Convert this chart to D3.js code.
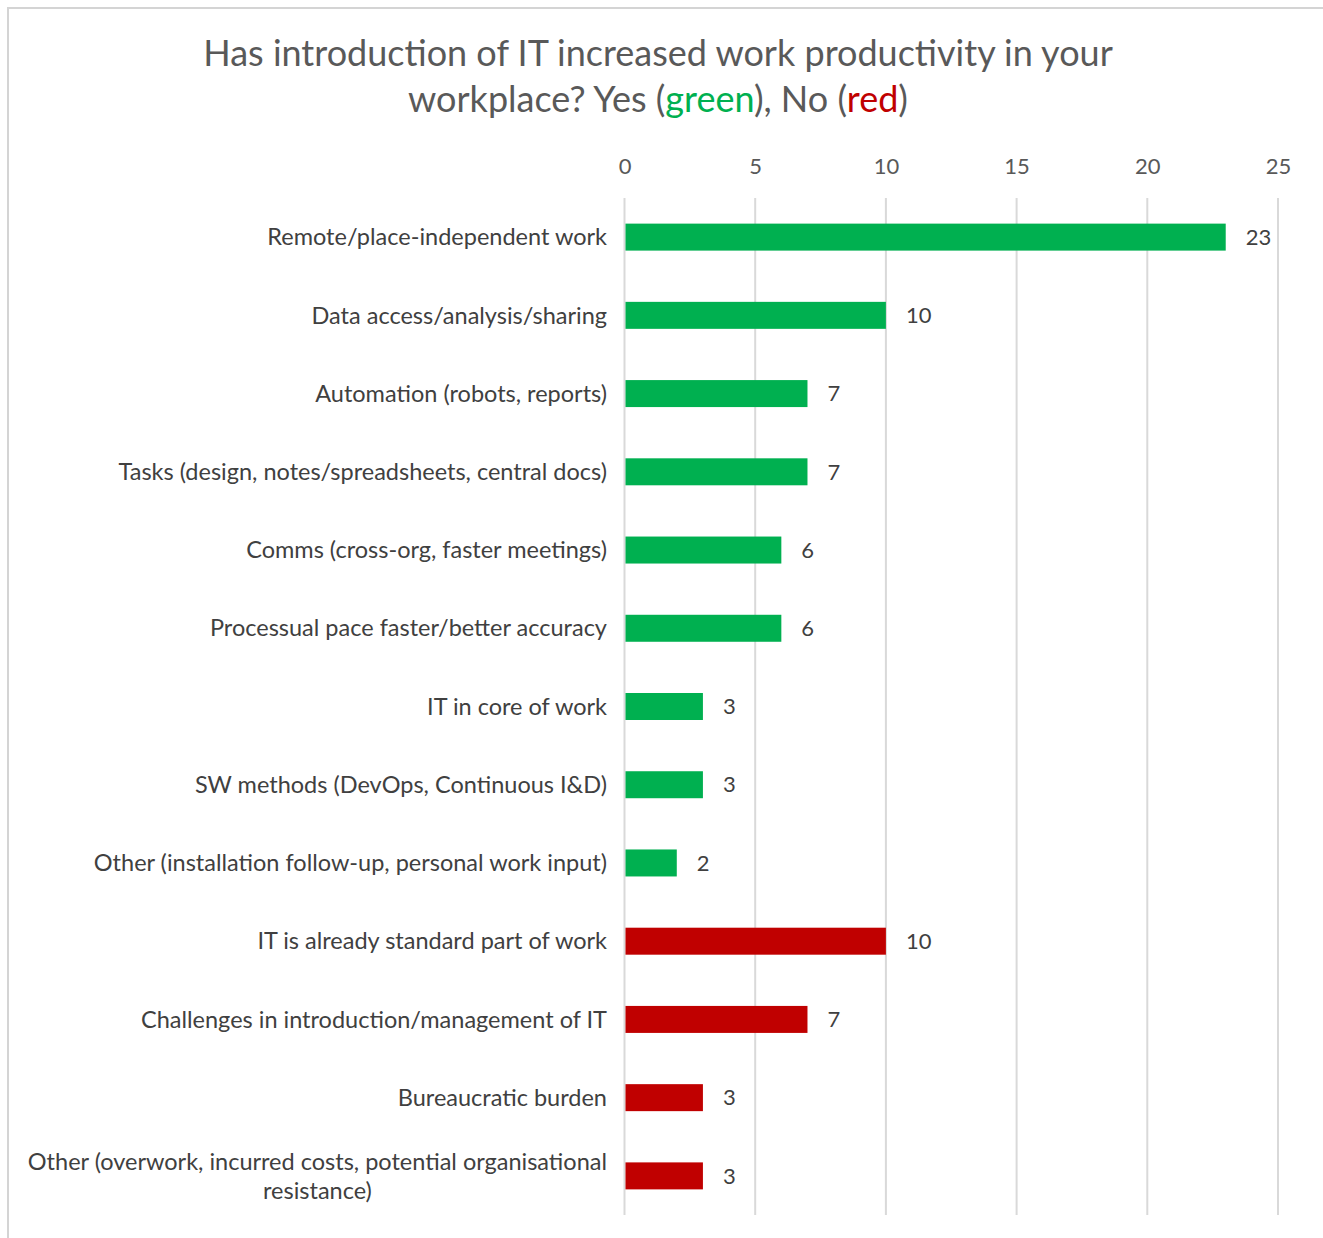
<!DOCTYPE html>
<html>
<head>
<meta charset="utf-8">
<script src="https://cdn.jsdelivr.net/npm/d3@7"></script>
<style>
  body { margin: 0; background: #fff; }
  svg text { font-family: Lato, "Open Sans", sans-serif; }
</style>
</head>
<body>
<div id="chart"></div>
<script>
var categories = [
  "Remote/place-independent work",
  "Data access/analysis/sharing",
  "Automation (robots, reports)",
  "Tasks (design, notes/spreadsheets, central docs)",
  "Comms (cross-org, faster meetings)",
  "Processual pace faster/better accuracy",
  "IT in core of work",
  "SW methods (DevOps, Continuous I&D)",
  "Other (installation follow-up, personal work input)",
  "IT is already standard part of work",
  "Challenges in introduction/management of IT",
  "Bureaucratic burden",
  "Other (overwork, incurred costs, potential organisational|resistance)"
];
var values = [23, 10, 7, 7, 6, 6, 3, 3, 2, 10, 7, 3, 3];
var answers = ["Yes", "Yes", "Yes", "Yes", "Yes", "Yes", "Yes", "Yes", "Yes", "No", "No", "No", "No"];
var xTicks = [0, 5, 10, 15, 20, 25];

var width = 1323;
var height = 1238;
var margin = { top: 198, left: 624.5, right: 45, bottom: 23 };

var colors = { Yes: "#00B050", No: "#C00000" };
var textColor = "#404040";
var labelSize = 23.5;

var svg = d3.select("#chart")
  .append("svg")
  .attr("width", width)
  .attr("height", height);

// chart border (top and left visible)
svg.append("rect")
  .attr("x", 8)
  .attr("y", 8)
  .attr("width", width + 20)
  .attr("height", height + 20)
  .attr("fill", "none")
  .attr("stroke", "#d4d4d4")
  .attr("stroke-width", 2);

var xScale = d3.scaleLinear()
  .domain([0, 25])
  .range([margin.left, width - margin.right]);

var yScale = d3.scaleBand()
  .domain(d3.range(categories.length))
  .range([margin.top, height - margin.bottom])
  .paddingInner(0.655)
  .paddingOuter(0.3275);

// gridlines
svg.append("g")
  .selectAll("line")
  .data(xTicks)
  .enter()
  .append("line")
  .attr("x1", function(d) { return xScale(d); })
  .attr("x2", function(d) { return xScale(d); })
  .attr("y1", margin.top)
  .attr("y2", height - margin.bottom)
  .attr("stroke", "#d9d9d9")
  .attr("stroke-width", 2);

// top axis labels
var xAxis = svg.append("g")
  .attr("transform", "translate(0," + (margin.top - 24) + ")")
  .call(d3.axisTop(xScale).tickValues(xTicks).tickSize(0).tickPadding(0));
xAxis.select(".domain").remove();
xAxis.selectAll("text")
  .attr("font-size", 22)
  .attr("fill", "#595959")
  .style("font-family", "Lato, sans-serif");

// bars
svg.append("g")
  .selectAll("rect")
  .data(values)
  .enter()
  .append("rect")
  .attr("x", xScale(0) + 1)
  .attr("y", function(d, i) { return yScale(i); })
  .attr("width", function(d) { return xScale(d) - xScale(0) - 1; })
  .attr("height", yScale.bandwidth())
  .attr("fill", function(d, i) { return colors[answers[i]]; });

// value labels
svg.append("g")
  .selectAll("text")
  .data(values)
  .enter()
  .append("text")
  .attr("x", function(d) { return xScale(d) + 20; })
  .attr("y", function(d, i) { return yScale(i) + yScale.bandwidth() / 2; })
  .attr("dy", "0.35em")
  .attr("font-size", 22)
  .attr("fill", textColor)
  .text(function(d) { return d; });

// category labels
var labelX = 607;
categories.forEach(function(c, i) {
  var lines = c.split("|");
  var cy = yScale(i) + yScale.bandwidth() / 2;
  var lineH = 29;
  var t = svg.append("text")
    .attr("font-size", labelSize)
    .attr("fill", textColor)
    .attr("text-anchor", lines.length > 1 ? "middle" : "end");
  if (lines.length == 1) {
    t.attr("x", labelX).attr("y", cy).attr("dy", "0.35em").text(c);
  } else {
    // measure the longest line to centre the wrapped label
    var tmp = svg.append("text").attr("font-size", labelSize).text(lines[0]);
    var w = tmp.node().getComputedTextLength();
    tmp.remove();
    var cx = labelX - w / 2;
    lines.forEach(function(l, j) {
      t.append("tspan")
        .attr("x", cx)
        .attr("y", cy + (j - (lines.length - 1) / 2) * lineH)
        .attr("dy", "0.35em")
        .text(l);
    });
  }
});

// title
var title = svg.append("text")
  .attr("x", 658)
  .attr("y", 66)
  .attr("text-anchor", "middle")
  .attr("font-size", 36)
  .attr("fill", "#595959")
  .text("Has introduction of IT increased work productivity in your");

var title2 = svg.append("text")
  .attr("x", 658)
  .attr("y", 112)
  .attr("text-anchor", "middle")
  .attr("font-size", 36)
  .attr("fill", "#595959");
title2.append("tspan").text("workplace? Yes (");
title2.append("tspan").attr("fill", colors.Yes).text("green");
title2.append("tspan").text("), No (");
title2.append("tspan").attr("fill", colors.No).text("red");
title2.append("tspan").text(")");
</script>
</body>
</html>
